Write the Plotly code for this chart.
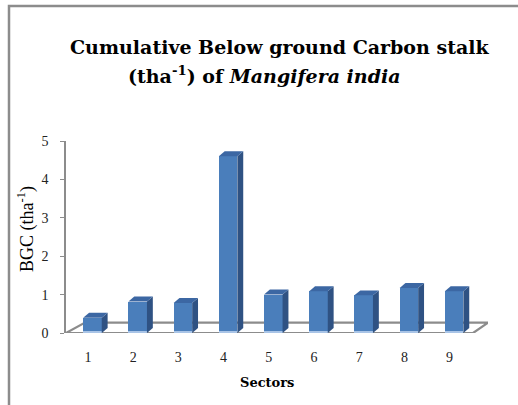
import plotly.graph_objects as go

# Cumulative below-ground carbon stock per sector
sectors = [1, 2, 3, 4, 5, 6, 7, 8, 9]
sector_labels = ["1", "2", "3", "4", "5", "6", "7", "8", "9"]
bgc_values = [0.40, 0.82, 0.78, 4.60, 1.00, 1.09, 0.98, 1.17, 1.09]
y_ticks = [0, 1, 2, 3, 4, 5]

W, H = 518, 405
ML, MR, MT, MB = 66, 30, 141, 72
X_RANGE = [0.414, 9.75]
Y_RANGE = [0, 5]

FRONT = "#4a7ebb"
SIDE = "#2f5283"
TOP = "#3c67a3"
BASE = "#a9c4e6"
GRAY = "#8c8c8c"
FONT = "Liberation Serif, Times New Roman, serif"
BOLD_FONT = "DejaVu Serif, serif"

bar_w = 0.41
dx, dy = 0.13, 0.13  # depth offset for the 3D look

pw = W - ML - MR
ph = H - MT - MB


def px_to_paper(x, y):
    return (x - ML) / pw, (H - MB - y) / ph


fig = go.Figure()

# front faces
fig.add_trace(go.Bar(
    x=sectors, y=bgc_values, width=bar_w,
    marker=dict(color=FRONT, line=dict(width=0)),
    showlegend=False,
))
# light reflection strip at the foot of each bar
fig.add_trace(go.Bar(
    x=sectors, y=[0.06] * len(sectors), width=bar_w,
    marker=dict(color=BASE, line=dict(width=0)),
    showlegend=False, hoverinfo="skip",
))

# side and top faces
for xv, v in zip(sectors, bgc_values):
    r = xv + bar_w / 2
    l = xv - bar_w / 2
    fig.add_trace(go.Scatter(
        x=[r, r + dx, r + dx, r, r], y=[0, dy, v + dy, v, 0],
        mode="lines", line=dict(width=0), fill="toself", fillcolor=SIDE,
        hoverinfo="skip", showlegend=False,
    ))
    fig.add_trace(go.Scatter(
        x=[l, r, r + dx, l + dx, l], y=[v, v, v + dy, v + dy, v],
        mode="lines", line=dict(width=0), fill="toself", fillcolor=TOP,
        hoverinfo="skip", showlegend=False,
    ))

fig.update_xaxes(
    range=X_RANGE, tickvals=[s - 0.1 for s in sectors], ticktext=sector_labels,
    showline=False, showgrid=False, zeroline=False, ticks="",
    tickfont=dict(family=FONT, size=14, color="#222"), ticklabelstandoff=14,
)
fig.update_yaxes(
    range=Y_RANGE, tickvals=y_ticks, showline=True, linecolor=GRAY, linewidth=1.5,
    ticks="outside", ticklen=4, tickcolor=GRAY, showgrid=False, zeroline=False,
    tickfont=dict(family=FONT, size=14, color="#222"), ticklabelstandoff=9,
)

annotations = []
ax, ay = px_to_paper(279, 47)
annotations.append(dict(text="Cumulative Below ground Carbon stalk", x=ax, y=ay,
                        font=dict(family=BOLD_FONT, size=19, color="#000", weight="bold")))
ax, ay = px_to_paper(264, 75)
annotations.append(dict(text="(tha<sup>-1</sup>) of <i>Mangifera india</i>", x=ax, y=ay,
                        font=dict(family=BOLD_FONT, size=19, color="#000", weight="bold")))
ax, ay = px_to_paper(267, 382)
annotations.append(dict(text="Sectors", x=ax, y=ay,
                        font=dict(family=BOLD_FONT, size=13, color="#000", weight="bold")))
ax, ay = px_to_paper(26, 229)
annotations.append(dict(text="BGC (tha<sup>-1</sup>)", x=ax, y=ay, textangle=-90,
                        font=dict(family=FONT, size=18, color="#000")))
for a in annotations:
    a.update(xref="paper", yref="paper", showarrow=False, xanchor="center", yanchor="middle")

# outer frame (left and top edges)
x0, y0 = px_to_paper(9, 405)
x1, y1 = px_to_paper(9, 6)
x2, _ = px_to_paper(518, 6)
shapes = [
    dict(type="path", xref="paper", yref="paper",
         path=f"M {x0} {y0} L {x1} {y1} L {x2} {y1}",
         line=dict(color=GRAY, width=2.5)),
    # floor parallelogram, kept beneath the bars
    dict(type="path", xref="x", yref="y", layer="below",
         path="M 0.414 0 L 9.42 0 L 9.75 0.27 L 0.835 0.27 Z",
         line=dict(color=GRAY, width=2.2), fillcolor="white"),
]

fig.update_layout(
    width=W, height=H, margin=dict(l=ML, r=MR, t=MT, b=MB),
    paper_bgcolor="white", plot_bgcolor="white", barmode="overlay",
    annotations=annotations, shapes=shapes, bargap=0,
)

fig.write_html("out.html")
